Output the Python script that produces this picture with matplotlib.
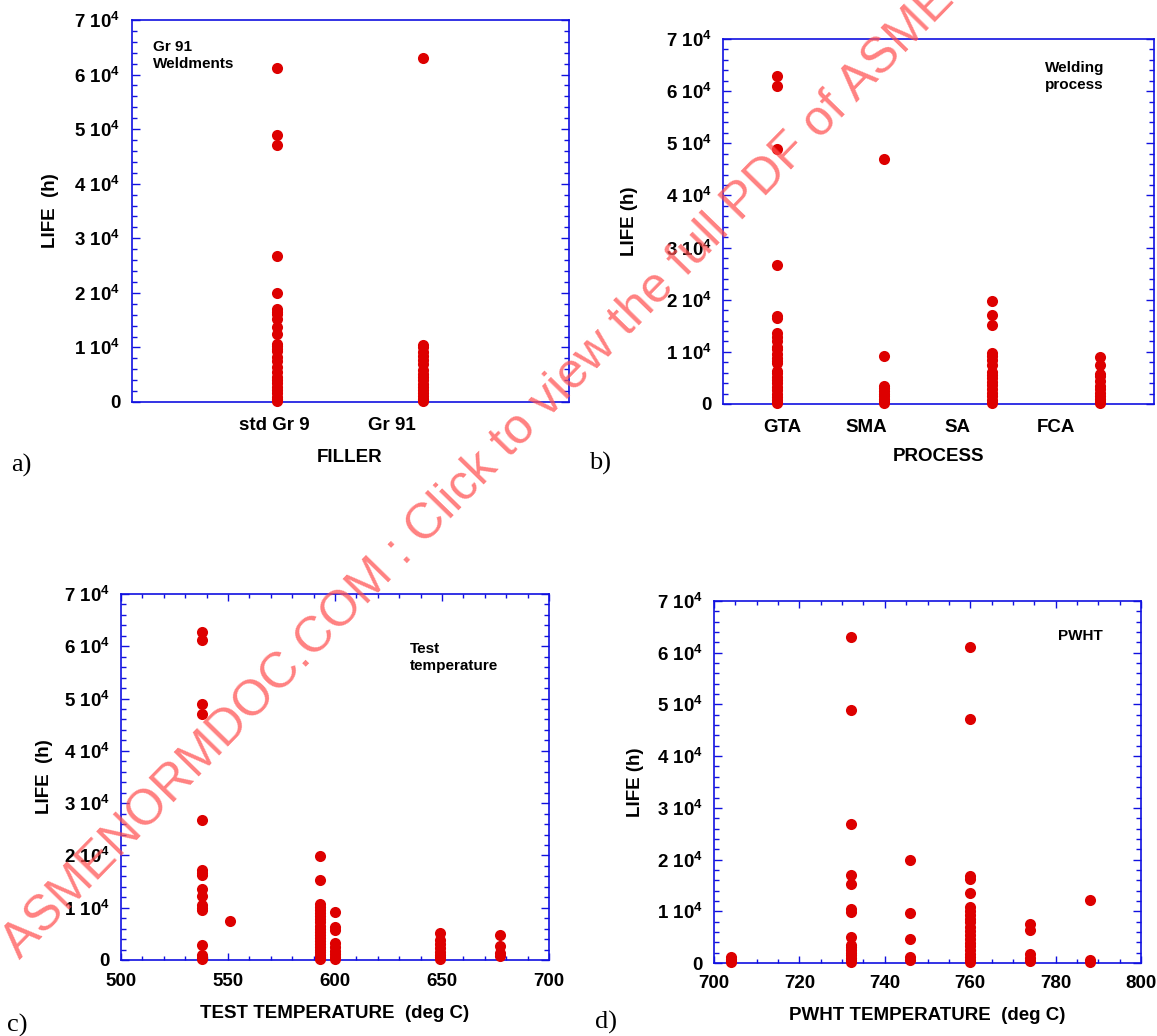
import matplotlib
matplotlib.use("Agg")
import matplotlib.pyplot as plt
from matplotlib.ticker import MultipleLocator, FuncFormatter

plt.rcParams['font.family'] = ['Liberation Sans', 'DejaVu Sans']
plt.rcParams['font.weight'] = 'bold'
plt.rcParams['mathtext.default'] = 'regular'

# ---- creep rupture life data (h) ----
filler_labels = ['std Gr 9', 'Gr 91']
filler_life = [
    [61200, 49000, 47100, 26800, 20000, 17000, 16500, 16200, 15300, 13800,
     12400, 10700, 10200, 9800, 9300, 8300, 7500, 6500, 5500, 4600, 4000,
     3400, 2800, 2200, 1600, 1000, 600, 300, 100],
    [63100, 10500, 10000, 9200, 8500, 7700, 7000, 5900, 5200, 4500, 4000,
     3300, 2800, 2200, 1600, 1100, 600, 300, 100],
]

process_labels = ['GTA', 'SMA', 'SA', 'FCA']
process_life = [
    [63000, 61000, 48900, 26700, 16900, 16400, 13600, 12800, 12100, 11000,
     10500, 9600, 8800, 8300, 7800, 6400, 6000, 5200, 4600, 4000, 3300,
     2700, 2000, 1400, 800, 400, 100],
    [47000, 9300, 3400, 3000, 2500, 2000, 1500, 1000, 500, 100],
    [19800, 17100, 15200, 9700, 9200, 8500, 7500, 6200, 5500, 4900, 4200,
     3600, 2900, 2200, 1500, 800, 200],
    [9100, 7500, 5800, 5300, 4500, 3500, 2900, 2200, 1500, 900, 400, 100],
]

test_temps = [538, 551, 593, 600, 649, 677]
test_temp_life = [
    [62800, 61200, 49000, 47100, 26700, 17200, 16600, 16200, 13600, 12200,
     10500, 10000, 9500, 2900, 900, 400, 100],
    [7500],
    [19900, 15300, 10700, 10200, 9600, 9000, 8400, 7800, 7200, 6500, 5900,
     5300, 4700, 4200, 3600, 3000, 2500, 2000, 1500, 1000, 600, 300, 100],
    [9100, 6300, 5800, 3300, 2500, 1800, 1100, 500, 100],
    [5100, 3800, 3000, 2300, 1600, 1000, 500, 100],
    [4800, 2600, 1300, 700],
]

pwht_temps = [704, 732, 746, 760, 774, 788]
pwht_life = [
    [1200, 800, 400, 100],
    [63000, 48900, 26800, 17100, 15200, 10500, 9800, 5100, 3500, 3000, 2500,
     2000, 1500, 1000, 500, 100],
    [19900, 9700, 4600, 1100, 500],
    [61200, 47100, 16800, 16300, 13600, 10900, 10000, 9300, 8600, 7900, 7000,
     6200, 5400, 4600, 3900, 3200, 2500, 1800, 1200, 600, 200],
    [7500, 6300, 1800, 1000, 300],
    [12200, 500, 100],
]

RED = '#DD0000'
BLUE = '#1010E0'
W, H = 1157, 1036

fig = plt.figure(figsize=(W / 100, H / 100), dpi=100)


def axes_px(left, top, right, bottom):
    return fig.add_axes([left / W, 1 - bottom / H, (right - left) / W, (bottom - top) / H])


def life_fmt(v, pos):
    k = int(round(v / 1e4))
    return '0' if k == 0 else f'{k} 10$^{{4}}$'


def style_axes(ax, ylabel, ylabel_x, xlabel, xlabel_y):
    ax.set_ylim(0, 70000)
    for s in ax.spines.values():
        s.set_color(BLUE)
        s.set_linewidth(1.2)
    ax.yaxis.set_major_locator(MultipleLocator(10000))
    ax.yaxis.set_minor_locator(MultipleLocator(2000))
    ax.yaxis.set_major_formatter(FuncFormatter(life_fmt))
    ax.tick_params(axis='y', which='both', direction='in', left=True, right=True,
                   color=BLUE, width=1)
    ax.tick_params(axis='y', which='major', length=6, pad=8, labelsize=13.5)
    ax.tick_params(axis='y', which='minor', length=3.5)
    ax.set_ylabel(ylabel, fontsize=13.5, fontweight='bold', va='center', ha='center')
    ax.yaxis.set_label_coords(ylabel_x, 0.5)
    ax.set_xlabel(xlabel, fontsize=13.5, fontweight='bold', va='center', ha='center')
    ax.xaxis.set_label_coords(0.5, xlabel_y)


def dots(ax, x, vals):
    ax.plot([x] * len(vals), vals, 'o', ms=8, color=RED, mec=RED, mew=0,
            clip_on=False, zorder=3)


# a) filler metal
ax_a = axes_px(131.5, 20, 568.5, 402)
for i, vals in enumerate(filler_life):
    dots(ax_a, i + 1, vals)
ax_a.set_xlim(0, 3)
ax_a.set_xticks([0.98, 1.79], filler_labels)
ax_a.tick_params(axis='x', length=0, pad=11, labelsize=13.5)
style_axes(ax_a, 'LIFE  (h)', -0.186, 'FILLER', -0.145)
ax_a.text(0.049, 0.947, 'Gr 91\nWeldments', transform=ax_a.transAxes, fontsize=11,
          fontweight='bold', va='top', ha='left', linespacing=1.25)

# b) welding process
ax_b = axes_px(722.6, 39, 1154, 404)
for i, vals in enumerate(process_life):
    dots(ax_b, i + 1, vals)
ax_b.set_xlim(0.5, 4.5)
ax_b.set_xticks([1.05, 1.83, 2.68, 3.59], process_labels)
ax_b.tick_params(axis='x', length=0, pad=11, labelsize=13.5)
style_axes(ax_b, 'LIFE (h)', -0.215, 'PROCESS', -0.145)
ax_b.text(0.748, 0.94, 'Welding\nprocess', transform=ax_b.transAxes, fontsize=11,
          fontweight='bold', va='top', ha='left', linespacing=1.25)

# c) test temperature
ax_c = axes_px(121, 594, 549, 960)
for t, vals in zip(test_temps, test_temp_life):
    dots(ax_c, t, vals)
ax_c.set_xlim(500, 700)
ax_c.xaxis.set_major_locator(MultipleLocator(50))
ax_c.xaxis.set_minor_locator(MultipleLocator(10))
ax_c.tick_params(axis='x', which='both', direction='in', top=True, bottom=True,
                 color=BLUE, width=1)
ax_c.tick_params(axis='x', which='major', length=5, pad=9, labelsize=13.5)
ax_c.tick_params(axis='x', which='minor', length=3)
style_axes(ax_c, 'LIFE  (h)', -0.178, 'TEST TEMPERATURE  (deg C)', -0.145)
ax_c.text(0.675, 0.868, 'Test\ntemperature', transform=ax_c.transAxes, fontsize=11,
          fontweight='bold', va='top', ha='left', linespacing=1.25)

# d) post-weld heat treatment temperature
ax_d = axes_px(714, 601, 1141, 963)
for t, vals in zip(pwht_temps, pwht_life):
    dots(ax_d, t, vals)
ax_d.set_xlim(700, 800)
ax_d.xaxis.set_major_locator(MultipleLocator(20))
ax_d.xaxis.set_minor_locator(MultipleLocator(5))
ax_d.tick_params(axis='x', which='both', direction='in', top=True, bottom=True,
                 color=BLUE, width=1)
ax_d.tick_params(axis='x', which='major', length=5, pad=9, labelsize=13.5)
ax_d.tick_params(axis='x', which='minor', length=3)
style_axes(ax_d, 'LIFE (h)', -0.184, 'PWHT TEMPERATURE  (deg C)', -0.146)
ax_d.text(0.805, 0.903, 'PWHT', transform=ax_d.transAxes, fontsize=11,
          fontweight='bold', va='center', ha='left')

# panel letters
for txt, x, y in [('a)', 11, 465), ('b)', 589, 463), ('c)', 7, 1025), ('d)', 595, 1022)]:
    fig.text(x / W, 1 - y / H, txt, family='Liberation Serif', fontweight='normal',
             fontsize=19, va='center', ha='left')

# diagonal watermark
fig.text(20 / W, 1 - 960 / H,
         'ASMENORMDOC.COM : Click to view the full PDF of ASME',
         rotation=45.7, rotation_mode='anchor', ha='left', va='baseline',
         fontsize=36, fontweight='normal', color='#FF5050', alpha=0.72, zorder=10)

fig.savefig('out.png', dpi=100)
